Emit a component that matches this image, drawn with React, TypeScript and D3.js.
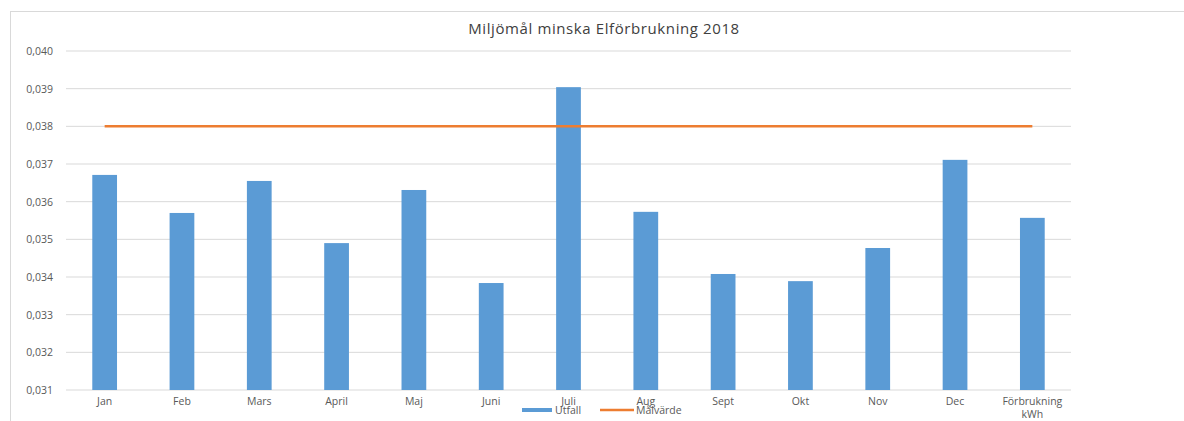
import React, { useEffect, useRef } from 'react';
import * as d3 from 'd3';

const categories = ['Jan', 'Feb', 'Mars', 'April', 'Maj', 'Juni', 'Juli', 'Aug', 'Sept', 'Okt', 'Nov', 'Dec', 'Förbrukning kWh'];
const utfall = [0.03671, 0.0357, 0.03655, 0.0349, 0.03631, 0.03384, 0.03904, 0.03573, 0.03408, 0.03389, 0.03477, 0.03711, 0.03557];
const malvarde = [0.038, 0.038, 0.038, 0.038, 0.038, 0.038, 0.038, 0.038, 0.038, 0.038, 0.038, 0.038, 0.038];
const yTicks = [0.031, 0.032, 0.033, 0.034, 0.035, 0.036, 0.037, 0.038, 0.039, 0.04];

const width = 1184;
const height = 421;
const font = "'Open Sans', 'Liberation Sans', sans-serif";

export default function App() {
  const svgRef = useRef<SVGSVGElement>(null);

  useEffect(() => {
    if (!svgRef.current) return;
    const svg = d3.select(svgRef.current);
    svg.selectAll('*').remove();

    const left = 66, right = 1071, top = 51, bottom = 390;

    // chart border
    svg.append('rect')
      .attr('x', 10.5).attr('y', 11.5)
      .attr('width', 1300).attr('height', 500)
      .attr('fill', 'white').attr('stroke', '#d9d9d9');

    const x = d3.scaleBand().domain(categories).range([left, right]).paddingInner(0.68).paddingOuter(0.34);
    const y = d3.scaleLinear().domain([0.031, 0.04]).range([bottom, top]);

    // gridlines + y labels
    const grid = svg.append('g');
    grid.selectAll('line').data(yTicks).enter().append('line')
      .attr('x1', left).attr('x2', right)
      .attr('y1', d => y(d)).attr('y2', d => y(d))
      .attr('stroke', '#d9d9d9').attr('stroke-width', 1);
    grid.selectAll('text').data(yTicks).enter().append('text')
      .attr('x', 53).attr('y', d => y(d) + 4)
      .attr('text-anchor', 'end')
      .style('font-family', font).style('font-size', '10.5px').attr('fill', '#595959')
      .text(d => d3.format('.3f')(d).replace('.', ','));

    // bars
    svg.append('g').selectAll('rect').data(utfall).enter().append('rect')
      .attr('x', (d, i) => x(categories[i]) || 0)
      .attr('y', d => y(d))
      .attr('width', x.bandwidth())
      .attr('height', d => bottom - y(d))
      .attr('fill', '#5b9bd5');

    // target line
    const line = d3.line<number>()
      .x((d, i) => (x(categories[i]) || 0) + x.bandwidth() / 2)
      .y(d => y(d));
    svg.append('path').datum(malvarde)
      .attr('d', line).attr('fill', 'none')
      .attr('stroke', '#ed7d31').attr('stroke-width', 2.5);

    // x labels
    const xl = svg.append('g');
    categories.forEach(c => {
      const cx = (x(c) || 0) + x.bandwidth() / 2;
      const parts = c.split(' ');
      parts.forEach((p, j) => {
        xl.append('text')
          .attr('x', cx).attr('y', 405 + j * 12.5)
          .attr('text-anchor', 'middle')
          .style('font-family', font).style('font-size', '10.5px').attr('fill', '#595959')
          .text(p);
      });
    });

    // title
    svg.append('text')
      .attr('x', 604).attr('y', 34)
      .attr('text-anchor', 'middle')
      .style('font-family', font).style('font-size', '15px').style('letter-spacing', '0.6px').attr('fill', '#404040')
      .text('Miljömål minska Elförbrukning 2018');

    // legend
    const lg = svg.append('g');
    lg.append('rect').attr('x', 522).attr('y', 408).attr('width', 30).attr('height', 4).attr('fill', '#5b9bd5');
    lg.append('text').attr('x', 555).attr('y', 414)
      .style('font-family', font).style('font-size', '10.5px').attr('fill', '#595959').text('Utfall');
    lg.append('line').attr('x1', 600).attr('x2', 634).attr('y1', 410).attr('y2', 410)
      .attr('stroke', '#ed7d31').attr('stroke-width', 2.5);
    lg.append('text').attr('x', 636).attr('y', 414)
      .style('font-family', font).style('font-size', '10.5px').attr('fill', '#595959').text('Målvärde');
  }, []);

  return (
    <svg ref={svgRef} width={width} height={height}
      style={{ position: 'absolute', left: 0, top: 0, background: 'white' }} />
  );
}
